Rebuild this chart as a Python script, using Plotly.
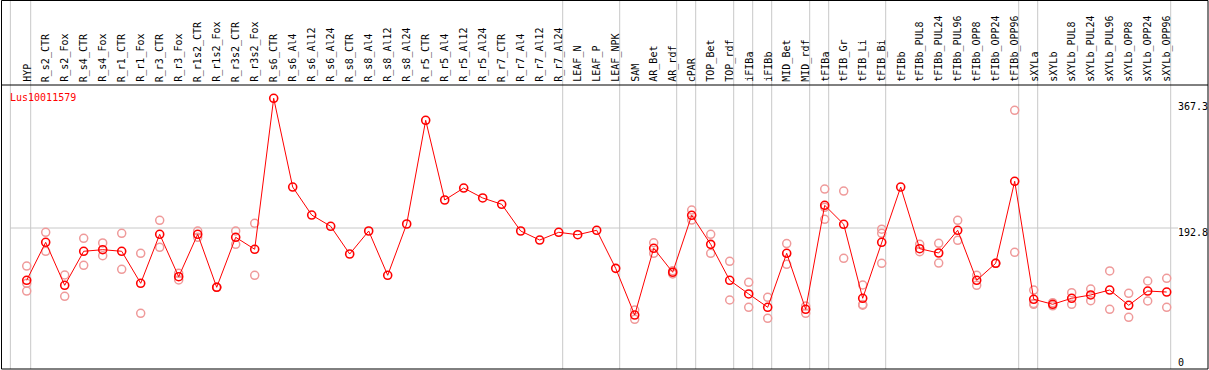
import plotly.graph_objects as go

W, H = 1209, 370

gene_name = "Lus10011579"

categories = [
    "HYP", "R_s2_CTR", "R_s2_Fox", "R_s4_CTR", "R_s4_Fox", "R_r1_CTR", "R_r1_Fox",
    "R_r3_CTR", "R_r3_Fox", "R_r1s2_CTR", "R_r1s2_Fox", "R_r3s2_CTR", "R_r3s2_Fox",
    "R_s6_CTR", "R_s6_Al4", "R_s6_Al12", "R_s6_Al24", "R_s8_CTR", "R_s8_Al4",
    "R_s8_Al12", "R_s8_Al24", "R_r5_CTR", "R_r5_Al4", "R_r5_Al12", "R_r5_Al24",
    "R_r7_CTR", "R_r7_Al4", "R_r7_Al12", "R_r7_Al24", "LEAF_N", "LEAF_P", "LEAF_NPK",
    "SAM", "AR_Bet", "AR_rdf", "cPAR", "TOP_Bet", "TOP_rdf", "iFIBa", "iFIBb",
    "MID_Bet", "MID_rdf", "tFIBa", "tFIB_Gr", "tFIB_Li", "tFIB_Bi", "tFIBb",
    "tFIBb_PUL8", "tFIBb_PUL24", "tFIBb_PUL96", "tFIBb_OPP8", "tFIBb_OPP24",
    "tFIBb_OPP96", "sXYLa", "sXYLb", "sXYLb_PUL8", "sXYLb_PUL24", "sXYLb_PUL96",
    "sXYLb_OPP8", "sXYLb_OPP24", "sXYLb_OPP96",
]

mean_values = [
    119.8, 172.8, 112.8, 160.3, 162.5, 160.3, 115.6, 184.0, 124.8, 184.0, 110.0,
    179.8, 163.1, 373.9, 250.0, 210.9, 195.2, 156.5, 188.6, 126.8, 198.4, 343.2,
    231.9, 248.6, 234.7, 225.9, 188.6, 176.0, 186.8, 183.4, 189.6, 136.5,
    71.3, 164.5, 131.0, 210.5, 170.0, 119.8, 100.7, 82.1, 157.5, 79.3,
    224.5, 198.0, 94.7, 172.8, 250.0, 163.9, 157.9, 189.6, 119.8, 143.5,
    258.0, 93.3, 86.3, 94.7, 99.3, 106.2, 84.9, 104.8, 103.4,
]

replicate_values = [
    [139.7, 115.6, 104.8], [186.8, 160.3], [127.2, 97.4], [178.4, 140.7],
    [171.9, 154.1], [185.4, 135.1], [157.5, 73.7], [203.5, 165.9], [129.6, 120.2],
    [188.6, 179.8], [110.0, 110.0], [188.6, 170.0], [199.3, 126.8],
    [], [], [], [], [], [], [], [], [], [], [], [], [], [], [], [], [], [], [],
    [78.3, 65.3], [172.2, 157.5], [128.6, 133.0], [217.9, 203.9], [184.0, 157.5],
    [146.3, 92.3], [117.0, 82.1], [96.0, 66.7], [171.0, 142.1], [83.9, 73.7],
    [247.2, 221.7, 204.9], [244.4, 150.5], [113.2, 86.0, 85.0],
    [191.2, 185.4, 143.5], [], [170.0, 159.7], [171.4, 143.9], [203.5, 175.6],
    [126.8, 112.8], [143.5, 143.5], [357.1, 158.9], [106.2, 86.3, 87.5],
    [88.5, 84.1], [102.5, 86.3], [107.6, 91.3], [132.8, 79.3], [101.6, 68.1],
    [118.8, 90.9], [122.6, 82.1],
]

# group separators (category-index positions); first one is the leading edge
group_separators = [-0.86, 0.21, 28.21, 31.21, 34.21, 35.21, 37.21, 38.21, 39.21,
                    41.21, 42.21, 45.21, 52.21, 53.21, 60.21]

y_ticks = [0, 192.8, 367.3]
y_tick_labels = ["0", "192.8", "367.3"]

# pixel geometry
X0_PX, DX_PX = 26.7, 19.0
Y0_PX, DY_PX = 366.1, 0.7163

x_range = [(0 - X0_PX) / DX_PX, (W - X0_PX) / DX_PX]
y_range = [(Y0_PX - H) / DY_PX, Y0_PX / DY_PX]

def px_x(p):
    return p / W

def px_y(p):
    return 1 - p / H

RED = "#ff0000"
PINK = "#ef9a9a"
GRID = "#c8c8c8"
FONT = "DejaVu Sans Mono"

x_idx = list(range(len(categories)))

rx, ry = [], []
for i, reps in enumerate(replicate_values):
    for v in reps:
        rx.append(i)
        ry.append(v)

fig = go.Figure()
fig.add_trace(go.Scatter(
    x=rx, y=ry, mode="markers",
    marker=dict(symbol="circle-open", size=8, color=PINK, line=dict(width=1.5, color=PINK)),
    hoverinfo="skip", showlegend=False, cliponaxis=False,
))
fig.add_trace(go.Scatter(
    x=x_idx, y=mean_values, mode="lines+markers",
    line=dict(color=RED, width=1),
    marker=dict(symbol="circle-open", size=8, color=RED, line=dict(width=1.6, color=RED)),
    text=categories, hovertemplate="%{text}: %{y}<extra></extra>",
    showlegend=False, cliponaxis=False,
))

shapes = []
for s in group_separators:
    shapes.append(dict(type="line", xref="x", yref="paper", x0=s, x1=s, y0=px_y(369), y1=1,
                       line=dict(color=GRID, width=1), layer="below"))
shapes.append(dict(type="line", xref="x", yref="y", x0=(10 - X0_PX) / DX_PX, x1=(1178 - X0_PX) / DX_PX,
                   y0=y_ticks[1], y1=y_ticks[1], line=dict(color=GRID, width=1), layer="below"))
# frame and header separator
shapes.append(dict(type="rect", xref="paper", yref="paper", x0=px_x(1.5), x1=px_x(1208), y0=px_y(369), y1=px_y(0.5),
                   line=dict(color="black", width=1), layer="above"))
shapes.append(dict(type="line", xref="paper", yref="paper", x0=px_x(1.5), x1=px_x(1208), y0=px_y(85), y1=px_y(85),
                   line=dict(color="black", width=1), layer="above"))

annotations = []
for i, c in enumerate(categories):
    annotations.append(dict(x=i, xref="x", y=px_y(83), yref="paper", text=c, textangle=-90,
                            showarrow=False, xanchor="center", yanchor="bottom",
                            font=dict(family=FONT, size=10, color="black"), borderpad=0))
tick_centers_px = {"0": 362.5, "192.8": 232.5, "367.3": 106.5}
for lab in y_tick_labels:
    annotations.append(dict(x=px_x(1176.5), xref="paper", y=px_y(tick_centers_px[lab]), yref="paper",
                            text=lab, showarrow=False, xanchor="left", yanchor="middle",
                            font=dict(family=FONT, size=10, color="black"), borderpad=0))
annotations.append(dict(x=px_x(8.5), xref="paper", y=px_y(97.5), yref="paper", text=gene_name,
                        showarrow=False, xanchor="left", yanchor="middle",
                        font=dict(family=FONT, size=10, color=RED), borderpad=0))

fig.update_layout(
    width=W, height=H,
    margin=dict(l=0, r=0, t=0, b=0),
    paper_bgcolor="white", plot_bgcolor="white",
    xaxis=dict(range=x_range, visible=False, showgrid=False, zeroline=False, fixedrange=True),
    yaxis=dict(range=y_range, visible=False, showgrid=False, zeroline=False, fixedrange=True),
    shapes=shapes, annotations=annotations,
)

fig.write_html("out.html",
               config={"displayModeBar": False},
               post_script="document.body.style.margin='0';document.body.style.overflow='hidden';")
